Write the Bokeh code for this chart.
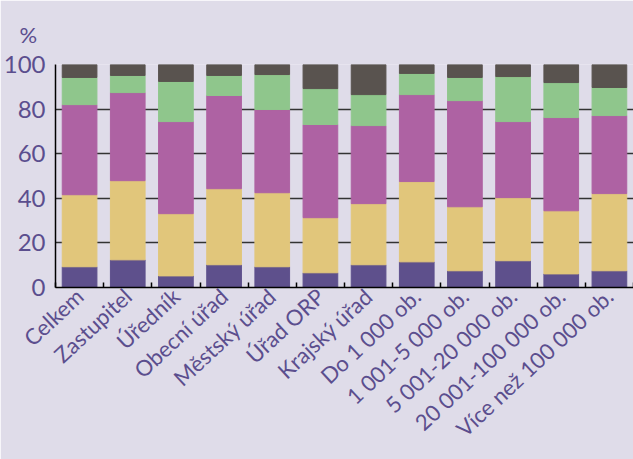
import math
from bokeh.plotting import figure
from bokeh.models import FixedTicker, Range1d
from bokeh.embed import file_html
from bokeh.resources import INLINE

categories = ["Celkem", "Zastupitel", "Úředník", "Obecní úřad", "Městský úřad", "Úřad ORP",
              "Krajský úřad", "Do 1 000 ob.", "1 001-5 000 ob.", "5 001-20 000 ob.",
              "20 001-100 000 ob.", "Více než 100 000 ob."]
# segment values (%), bottom to top
s1 = [9.3, 12.4, 5.2, 10.2, 9.3, 6.6, 10.2, 11.5, 7.5, 12.0, 6.1, 7.5]
s2 = [32.3, 35.5, 27.9, 34.1, 33.2, 24.7, 27.4, 36.0, 28.7, 28.3, 28.3, 34.6]
s3 = [40.4, 39.5, 41.3, 41.8, 37.3, 41.8, 35.0, 39.0, 47.6, 34.1, 41.8, 35.0]
s4 = [12.2, 7.7, 18.0, 9.0, 15.7, 16.1, 13.9, 9.5, 10.4, 20.2, 15.7, 12.6]
s5 = [5.8, 4.9, 7.6, 4.9, 4.5, 10.8, 13.5, 4.0, 5.8, 5.4, 8.1, 10.3]
y_ticks = [0, 20, 40, 60, 80, 100]
unit_label = "%"

colors = ["#5e508c", "#e1c67b", "#ae62a3", "#8fc68c", "#59534f"]
bg = "#dfdce9"
txt = "#5b4e8e"

n = len(categories)
centers = [i + 0.5 for i in range(n)]
bounds = [i for i in range(n + 1)]
data = {"x": centers, "s1": s1, "s2": s2, "s3": s3, "s4": s4, "s5": s5}

p = figure(width=633, height=459, output_backend="svg", toolbar_location=None,
           x_range=Range1d(0, n), y_range=Range1d(0, 100),
           min_border_left=54, min_border_top=64, min_border_right=0, min_border_bottom=172)
p.background_fill_color = bg
p.border_fill_color = bg
p.outline_line_color = None

p.vbar_stack(["s1", "s2", "s3", "s4", "s5"], x="x", width=0.72, color=colors, source=data)

p.title.text = unit_label
p.title.text_font = "Lato"
p.title.text_font_size = "22px"
p.title.text_font_style = "normal"
p.title.text_color = txt
p.title.align = "left"
p.title.offset = -36
p.title.standoff = 34

# y axis
p.yaxis.ticker = FixedTicker(ticks=y_ticks)
p.yaxis.major_tick_in = 0
p.yaxis.major_tick_out = 0
p.yaxis.minor_tick_line_color = None
p.yaxis.axis_line_color = "black"
p.yaxis.axis_line_width = 1.5
p.yaxis.major_label_text_font = "Lato"
p.yaxis.major_label_text_font_size = "24px"
p.yaxis.major_label_text_color = txt
p.yaxis.major_label_standoff = 10

# x axis
p.xaxis.ticker = FixedTicker(ticks=centers, minor_ticks=bounds)
p.xaxis.major_label_overrides = {c: lab for c, lab in zip(centers, categories)}
p.xaxis.major_tick_in = 0
p.xaxis.major_tick_out = 0
p.xaxis.minor_tick_in = 5
p.xaxis.minor_tick_out = 0
p.xaxis.minor_tick_line_color = "black"
p.xaxis.minor_tick_line_width = 1.5
p.xaxis.axis_line_color = "black"
p.xaxis.axis_line_width = 1.5
p.xaxis.major_label_orientation = math.radians(43)
p.xaxis.major_label_text_font = "Lato"
p.xaxis.major_label_text_font_size = "22px"
p.xaxis.major_label_text_color = txt
p.xaxis.major_label_standoff = 5

p.xgrid.grid_line_color = None
p.ygrid.ticker = FixedTicker(ticks=y_ticks)
p.ygrid.grid_line_color = "#333333"
p.ygrid.grid_line_width = 1.5

html = file_html(p, INLINE)
html = html.replace("<body>", '<body style="background:%s; margin:0">' % bg, 1)
open("out.html", "w").write(html)
